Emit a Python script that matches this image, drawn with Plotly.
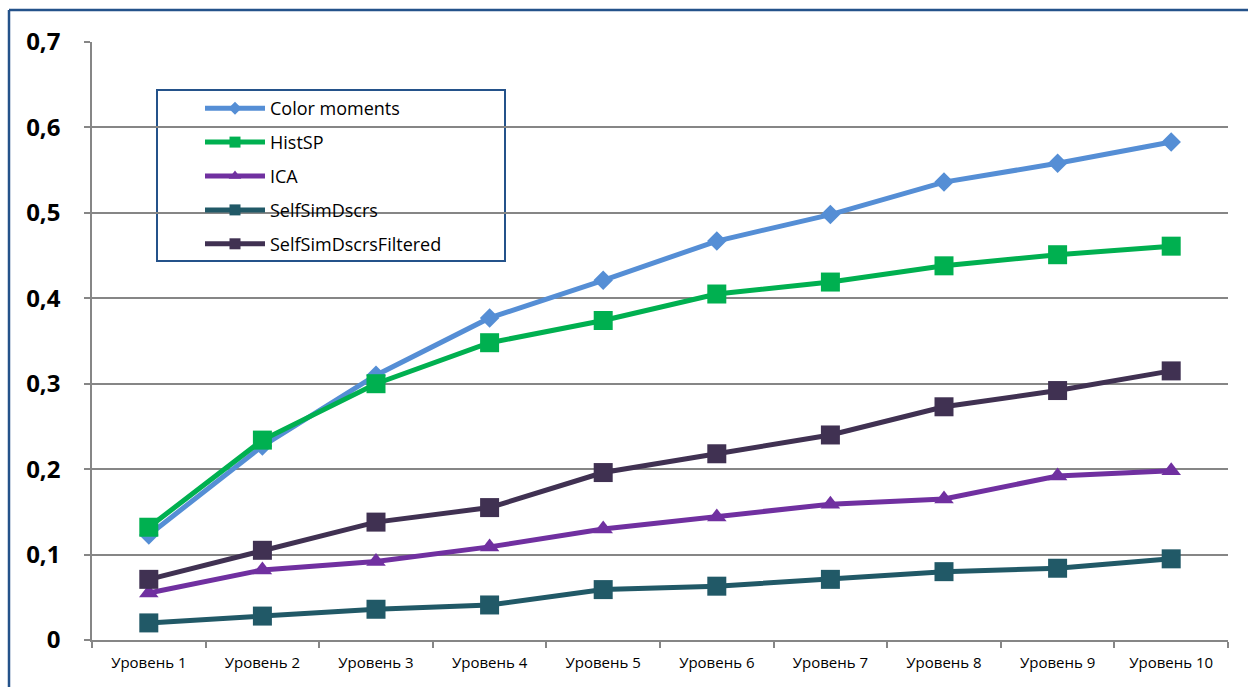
import plotly.graph_objects as go

categories = ["Уровень 1", "Уровень 2", "Уровень 3", "Уровень 4", "Уровень 5",
              "Уровень 6", "Уровень 7", "Уровень 8", "Уровень 9", "Уровень 10"]

color_moments = [0.123, 0.227, 0.310, 0.377, 0.421, 0.467, 0.498, 0.536, 0.558, 0.583]
hist_sp = [0.132, 0.234, 0.300, 0.348, 0.374, 0.405, 0.419, 0.438, 0.451, 0.461]
ica = [0.055, 0.082, 0.092, 0.109, 0.130, 0.144, 0.159, 0.165, 0.192, 0.198]
self_sim = [0.020, 0.028, 0.036, 0.041, 0.059, 0.063, 0.071, 0.080, 0.084, 0.095]
self_sim_filtered = [0.071, 0.105, 0.138, 0.155, 0.196, 0.218, 0.240, 0.273, 0.292, 0.315]

y_tickvals = [0, 0.1, 0.2, 0.3, 0.4, 0.5, 0.6, 0.7]
y_ticktext = ["0", "0,1", "0,2", "0,3", "0,4", "0,5", "0,6", "0,7"]

series = [
    ("Color moments", color_moments, "#558ED5", "diamond", 15, 10),
    ("HistSP", hist_sp, "#00B050", "square", 19, 11),
    ("ICA", ica, "#7030A0", "triangle-up", 17, 11),
    ("SelfSimDscrs", self_sim, "#215967", "square", 19, 11),
    ("SelfSimDscrsFiltered", self_sim_filtered, "#403152", "square", 19, 11),
]

FONT = "Open Sans"

fig = go.Figure()
for name, vals, color, sym, size, lsize in series:
    fig.add_trace(go.Scatter(
        x=categories, y=vals, name=name, mode="lines+markers", legendgroup=name,
        showlegend=False,
        line=dict(color=color, width=5),
        marker=dict(symbol=sym, size=size, color=color, line=dict(width=0)),
    ))
    # legend-only entry with the smaller marker used in the legend
    fig.add_trace(go.Scatter(
        x=[None], y=[None], name=name, mode="lines+markers", legendgroup=name,
        showlegend=True, hoverinfo="skip",
        line=dict(color=color, width=5),
        marker=dict(symbol=sym, size=lsize, color=color, line=dict(width=0)),
    ))

W, H = 1248, 687
L, R, T, B = 92, 20, 42, 47
pw, ph = W - L - R, H - T - B

def px_x(x):
    return (x - L) / pw

def px_y(y):
    return (H - B - y) / ph

FRAME = "#24528A"

fig.update_layout(
    width=W, height=H,
    margin=dict(l=L, r=R, t=T, b=B),
    paper_bgcolor="white", plot_bgcolor="white",
    font=dict(family=FONT, color="black"),
    showlegend=True,
    legend=dict(
        x=px_x(200), y=px_y(90), xanchor="left", yanchor="top",
        bgcolor="rgba(0,0,0,0)", borderwidth=0,
        font=dict(family=FONT, size=18, color="black"),
        itemwidth=60, tracegroupgap=7.5,
    ),
    xaxis=dict(
        type="category", showgrid=False, showline=True, linecolor="#868686", linewidth=1.5,
        ticks="outside", tickson="boundaries", ticklen=6, tickcolor="#868686", tickwidth=1.5,
        tickfont=dict(family=FONT, size=15, color="black"),
        ticklabelstandoff=8,
        range=[-0.5, 9.5],
    ),
    yaxis=dict(
        range=[0, 0.7], tickvals=y_tickvals, ticktext=y_ticktext,
        showgrid=True, gridcolor="#868686", gridwidth=1.5,
        showline=True, linecolor="#868686", linewidth=1.5,
        ticks="outside", ticklen=6, tickcolor="#868686", tickwidth=1.5,
        tickfont=dict(family=FONT, size=24, color="black", weight="bold"),
        ticklabelstandoff=19, zeroline=False,
    ),
    shapes=[
        dict(type="line", xref="paper", yref="paper",
             x0=px_x(9), y0=px_y(10), x1=px_x(1260), y1=px_y(10),
             line=dict(color=FRAME, width=2.5)),
        dict(type="line", xref="paper", yref="paper",
             x0=px_x(9), y0=px_y(10), x1=px_x(9), y1=px_y(700),
             line=dict(color=FRAME, width=2.5)),
        dict(type="rect", xref="paper", yref="paper", layer="between",
             x0=px_x(157), y0=px_y(261), x1=px_x(505), y1=px_y(90),
             line=dict(color=FRAME, width=2), fillcolor="white"),
    ],
)

fig.write_html("out.html")
